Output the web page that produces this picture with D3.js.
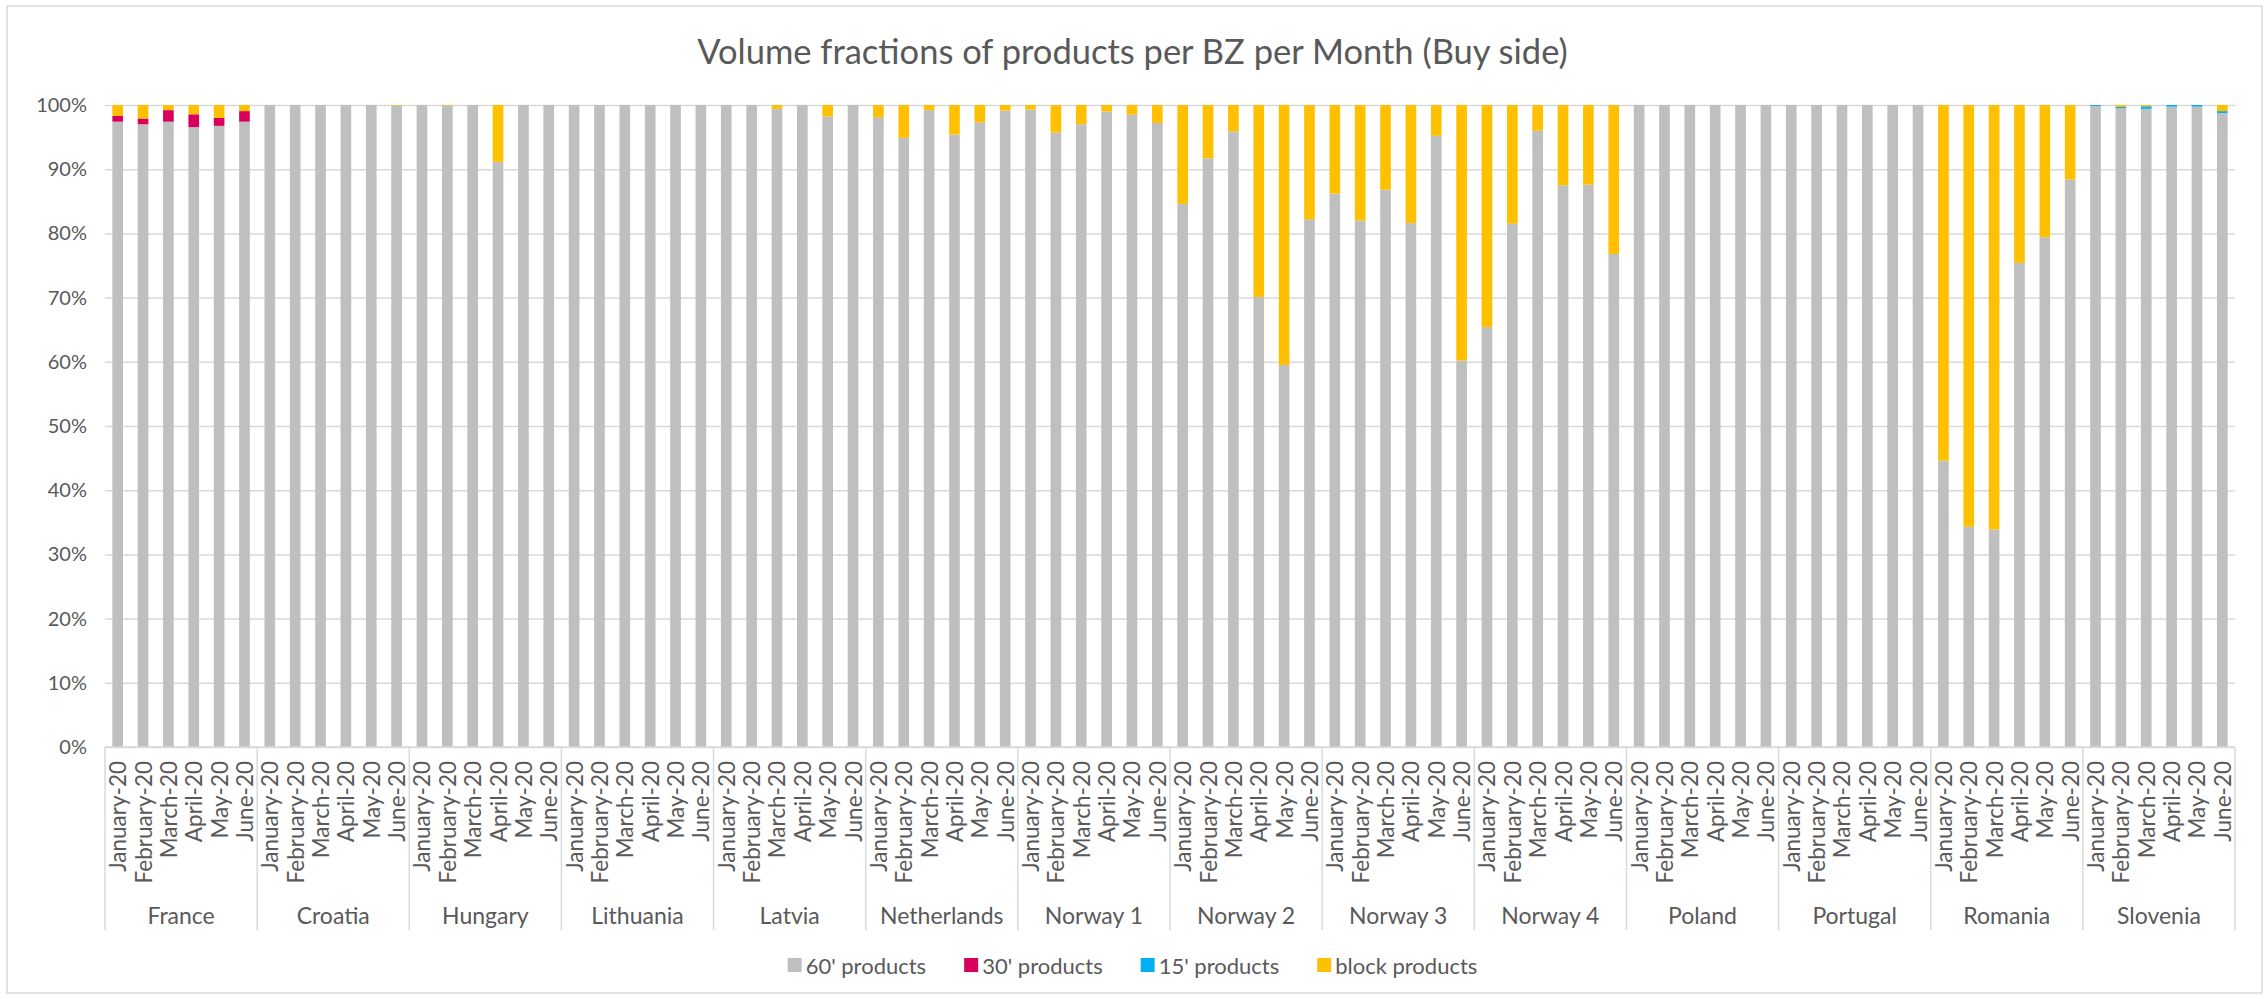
<!DOCTYPE html>
<html>
<head>
<meta charset="utf-8">
<script src="https://cdn.jsdelivr.net/npm/d3@7"></script>
<style>
  body { margin: 0; background: #fff; }
  text { font-family: Lato, "Open Sans", sans-serif; fill: #595959; }
</style>
</head>
<body>
<svg id="chart"></svg>
<script>
// zones and months on the category axis
const zones = ["France", "Croatia", "Hungary", "Lithuania", "Latvia", "Netherlands", "Norway 1",
  "Norway 2", "Norway 3", "Norway 4", "Poland", "Portugal", "Romania", "Slovenia"];
const months = ["January-20", "February-20", "March-20", "April-20", "May-20", "June-20"];
const seriesNames = ["60' products", "30' products", "15' products", "block products"];
const seriesColors = ["#BFBFBF", "#D9005B", "#00B0F0", "#FFC000"];
const yTicks = [0, 0.1, 0.2, 0.3, 0.4, 0.5, 0.6, 0.7, 0.8, 0.9, 1];

// shares in %, one row per zone (Jan..Jun)
const p60 = [
  97.4, 97.0, 97.4, 96.55, 96.75, 97.4,
  100, 100, 100, 100, 100, 99.9,
  100, 99.9, 100, 91.15, 100, 100,
  100, 100, 100, 100, 100, 100,
  100, 100, 99.4, 100, 98.2, 100,
  98.1, 94.9, 99.2, 95.4, 97.3, 99.15,
  99.3, 95.7, 97.0, 99.0, 98.5, 97.2,
  84.6, 91.7, 95.9, 70.1, 59.5, 82.2,
  86.2, 82.0, 86.8, 81.6, 95.2, 60.2,
  65.4, 81.5, 96.0, 87.5, 87.6, 76.8,
  100, 100, 100, 100, 100, 100,
  100, 100, 100, 100, 100, 100,
  44.6, 34.3, 33.9, 75.4, 79.4, 88.4,
  99.85, 99.5, 99.4, 99.74, 99.74, 98.75
];
const p30 = [
  0.9, 0.9, 1.8, 2.0, 1.25, 1.65,
  0, 0, 0, 0, 0, 0,
  0, 0, 0, 0, 0, 0,
  0, 0, 0, 0, 0, 0,
  0, 0, 0, 0, 0, 0,
  0, 0, 0, 0, 0, 0,
  0, 0, 0, 0, 0, 0,
  0, 0, 0, 0, 0, 0,
  0, 0, 0, 0, 0, 0,
  0, 0, 0, 0, 0, 0,
  0, 0, 0, 0, 0, 0,
  0, 0, 0, 0, 0, 0,
  0, 0, 0, 0, 0, 0,
  0, 0, 0, 0, 0, 0
];
const p15 = [
  0, 0, 0, 0, 0, 0,
  0, 0, 0, 0, 0, 0,
  0, 0, 0, 0, 0, 0,
  0, 0, 0, 0, 0, 0,
  0, 0, 0, 0, 0, 0,
  0, 0, 0, 0, 0, 0,
  0, 0, 0, 0, 0, 0,
  0, 0, 0, 0, 0, 0,
  0, 0, 0, 0, 0, 0,
  0, 0, 0, 0, 0, 0,
  0, 0, 0, 0, 0, 0,
  0, 0, 0, 0, 0, 0,
  0, 0, 0, 0, 0, 0,
  0.15, 0.2, 0.4, 0.26, 0.26, 0.3
];
const pBlock = [
  1.7, 2.1, 0.8, 1.45, 2.0, 0.95,
  0, 0, 0, 0, 0, 0.1,
  0, 0.1, 0, 8.85, 0, 0,
  0, 0, 0, 0, 0, 0,
  0, 0, 0.6, 0, 1.8, 0,
  1.9, 5.1, 0.8, 4.6, 2.7, 0.85,
  0.7, 4.3, 3.0, 1.0, 1.5, 2.8,
  15.4, 8.3, 4.1, 29.9, 40.5, 17.8,
  13.8, 18.0, 13.2, 18.4, 4.8, 39.8,
  34.6, 18.5, 4.0, 12.5, 12.4, 23.2,
  0, 0, 0, 0, 0, 0,
  0, 0, 0, 0, 0, 0,
  55.4, 65.7, 66.1, 24.6, 20.6, 11.6,
  0, 0.3, 0.2, 0, 0, 0.95
];

const W = 2265, H = 999;
const plot = {left: 105, right: 2235, top: 105, bottom: 747};

let rows = [];
zones.forEach((z, zi) => months.forEach((m, mi) => {
  let k = zi * 6 + mi;
  rows.push({key: z + "|" + m, zone: z, month: m,
    [seriesNames[0]]: p60[k], [seriesNames[1]]: p30[k], [seriesNames[2]]: p15[k], [seriesNames[3]]: pBlock[k]});
}));

let stacked = d3.stack().keys(seriesNames).offset(d3.stackOffsetExpand)(rows);

let x = d3.scaleBand().domain(rows.map(d => d.key)).range([plot.left, plot.right]).paddingInner(0.58).paddingOuter(0.29);
let xGroup = d3.scaleBand().domain(zones).range([plot.left, plot.right]);
let y = d3.scaleLinear().domain([0, 1]).range([plot.bottom, plot.top]);
let color = d3.scaleOrdinal().domain(seriesNames).range(seriesColors);

let svg = d3.select("#chart").attr("width", W).attr("height", H);

svg.append("rect")
  .attr("x", 7).attr("y", 6).attr("width", W - 10).attr("height", H - 12)
  .attr("fill", "#fff").attr("stroke", "#D9D9D9").attr("stroke-width", 1.5);

svg.append("text")
  .attr("x", W / 2).attr("y", 50)
  .attr("text-anchor", "middle").attr("dominant-baseline", "central")
  .attr("font-size", "34.5px")
  .text("Volume fractions of products per BZ per Month (Buy side)");

// gridlines + y labels
let yAxis = svg.append("g")
  .attr("transform", `translate(${plot.left},0)`)
  .call(d3.axisLeft(y).tickValues(yTicks).tickFormat(d3.format(".0%")).tickSize(-(plot.right - plot.left)).tickPadding(18));
yAxis.select(".domain").remove();
yAxis.selectAll(".tick line").attr("stroke", "#D9D9D9").attr("stroke-width", 1.5);
yAxis.selectAll(".tick text").attr("font-size", "20px").attr("fill", "#595959").attr("font-family", "Lato, sans-serif");

// bars
svg.append("g").selectAll("g")
  .data(stacked)
  .enter().append("g")
  .attr("fill", d => color(d.key))
  .selectAll("rect")
  .data(d => d)
  .enter().append("rect")
  .attr("x", d => x(d.data.key))
  .attr("width", x.bandwidth())
  .attr("y", d => y(d[1]))
  .attr("height", d => y(d[0]) - y(d[1]));

// category axis: line, separators, month + zone labels
let catAxis = svg.append("g");
catAxis.append("line")
  .attr("x1", plot.left).attr("x2", plot.right)
  .attr("y1", plot.bottom).attr("y2", plot.bottom)
  .attr("stroke", "#D9D9D9").attr("stroke-width", 1.5);

catAxis.selectAll(".sep")
  .data(zones.concat(["end"]))
  .enter().append("line")
  .attr("x1", (d, i) => i < zones.length ? xGroup(d) : plot.right)
  .attr("x2", (d, i) => i < zones.length ? xGroup(d) : plot.right)
  .attr("y1", plot.bottom).attr("y2", 930)
  .attr("stroke", "#D9D9D9").attr("stroke-width", 1.5);

catAxis.selectAll(".month")
  .data(rows)
  .enter().append("text")
  .attr("transform", d => `translate(${x(d.key) + x.bandwidth() / 2},${plot.bottom + 14}) rotate(-90)`)
  .attr("text-anchor", "end").attr("dominant-baseline", "central")
  .attr("font-size", "22.5px")
  .text(d => d.month);

catAxis.selectAll(".zone")
  .data(zones)
  .enter().append("text")
  .attr("x", d => xGroup(d) + xGroup.bandwidth() / 2)
  .attr("y", 915)
  .attr("text-anchor", "middle").attr("dominant-baseline", "central")
  .attr("font-size", "23px")
  .text(d => d);

// legend
let legend = svg.append("g");
let item = legend.selectAll("g")
  .data(seriesNames)
  .enter().append("g");
item.append("rect")
  .attr("width", 14).attr("height", 14).attr("y", -7)
  .attr("fill", d => color(d));
item.append("text")
  .attr("x", 18).attr("dominant-baseline", "central")
  .attr("font-size", "22px")
  .text(d => d);
let offs = 0, widths = [];
item.each(function() { widths.push(this.getBBox().width); });
let total = d3.sum(widths) + 38 * (widths.length - 1);
offs = W / 2 - total / 2;
item.attr("transform", (d, i) => {
  let t = `translate(${offs},965)`;
  offs += widths[i] + 38;
  return t;
});
</script>
</body>
</html>
